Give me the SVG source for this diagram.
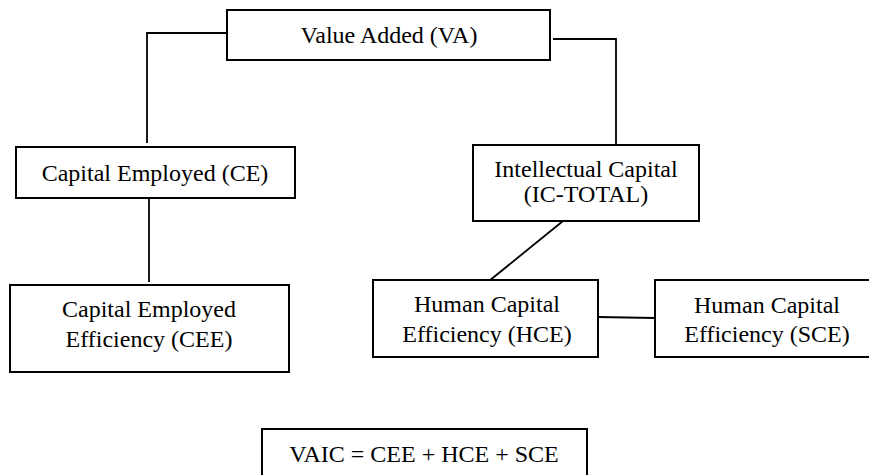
<svg xmlns="http://www.w3.org/2000/svg" width="869" height="475" viewBox="0 0 869 475">
<style>
.box{fill:#fff;stroke:#000;stroke-width:2}
.t{font-family:"Liberation Serif","Times New Roman",serif;font-size:24px;fill:#000;text-anchor:middle}
.c{fill:none;stroke:#000;stroke-width:1.8}
</style>
<rect width="869" height="475" fill="#fff"/>
<g id="connectors">
<polyline class="c" points="227,33 147,33 147,143"/>
<polyline class="c" points="553,39 616,39 616,145"/>
<line class="c" x1="149" y1="198" x2="149" y2="282"/>
<line class="c" x1="563" y1="221" x2="489" y2="281"/>
<line class="c" x1="598" y1="317" x2="655" y2="318"/>
</g>
<g id="va">
<rect class="box" x="227" y="10" width="323" height="50"/>
<text class="t" x="389" y="43">Value Added (VA)</text>
</g>
<g id="ce">
<rect class="box" x="16" y="147" width="279" height="51"/>
<text class="t" x="155" y="181">Capital Employed (CE)</text>
</g>
<g id="ic">
<rect class="box" x="473" y="145" width="226" height="76"/>
<text class="t" x="586" y="177">Intellectual Capital</text>
<text class="t" x="586" y="202">(IC-TOTAL)</text>
</g>
<g id="cee">
<rect class="box" x="10" y="285" width="279" height="87"/>
<text class="t" x="149" y="317">Capital Employed</text>
<text class="t" x="149" y="347">Efficiency (CEE)</text>
</g>
<g id="hce">
<rect class="box" x="373" y="280" width="225" height="77"/>
<text class="t" x="487" y="312">Human Capital</text>
<text class="t" x="487" y="342">Efficiency (HCE)</text>
</g>
<g id="sce">
<rect class="box" x="655" y="280" width="220" height="77"/>
<text class="t" x="767" y="313">Human Capital</text>
<text class="t" x="767" y="342">Efficiency (SCE)</text>
</g>
<g id="vaic">
<rect class="box" x="262" y="429" width="325" height="52"/>
<text class="t" x="424" y="462">VAIC = CEE + HCE + SCE</text>
</g>
</svg>
